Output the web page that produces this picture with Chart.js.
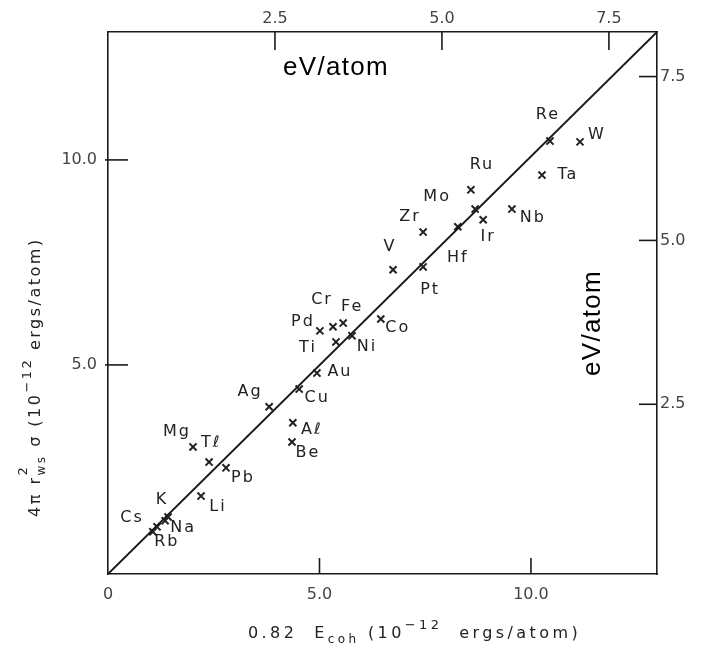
<!DOCTYPE html>
<html><head><meta charset="utf-8">
<script src="https://cdn.jsdelivr.net/npm/chart.js@4"></script>
<style>html,body{margin:0;padding:0;background:#fff;}#wrap{width:701px;height:648px;}</style>
</head><body><div id="wrap"><canvas id="c" width="701" height="648"></canvas></div>
<script>
// ---- data ----
const elements = ['Cs','Rb','Na','K','Li','Mg','Tℓ','Pb','Ag','Cu','Aℓ','Be','Au','Ti','Pd','Cr','Fe','Ni','Co','V','Pt','Zr','Hf','Mo','Ir','Ru','Nb','Ta','Re','W'];
const cohesiveEnergy = [1.16,1.06,1.35,1.42,2.20,2.01,2.39,2.79,3.81,4.52,4.37,4.35,4.94,5.39,5.01,5.32,5.56,5.77,6.45,6.74,7.45,7.45,8.27,8.68,8.87,8.58,9.55,10.26,10.45,11.16];
const surfaceEnergy  = [1.05,0.93,1.20,1.29,1.80,3.00,2.63,2.49,3.98,4.41,3.59,3.12,4.80,5.56,5.83,5.93,6.02,5.71,6.12,7.32,7.39,8.24,8.37,8.80,8.54,9.27,8.80,9.63,10.46,10.44];
const fitLineX = [0, 12.98];
const fitLineY = [-0.1, 13.12];
const bottomTicks = [0, 5, 10];
const leftTicks = [5, 10];
const topTicks = [2.5, 5, 7.5];
const rightTicks = [2.5, 5, 7.5];

// ---- styling (label offsets in px) ----
const labelOffsets = [[-25,-9],[14,10],[18,7],[-6,-17],[17,11],[-16,-15],[2,-19],[17,10],[-19,-15],[18,9],[19,7],[16,11],[23,-1],[-28,6],[-17,-9],[-11,-27],[9,-16],[15,11],[17,9],[-3,-23],[7,23],[-13,-15],[0,31],[-38,-12],[5,17],[11,-25],[21,9],[26,0],[-2,-26],[17,-7]];

const INK = '#1a1a1a';
const tickFont = {family:'DejaVu Sans', size:16};

function drawRich(ctx, x, y, parts, family){
  let cx = x;
  for (const p of parts){
    if (p.stack){
      let w = 0;
      for (const s of p.stack){
        ctx.font = s.size + 'px ' + family;
        ctx.fillText(s.t, cx, y + s.dy);
        w = Math.max(w, ctx.measureText(s.t).width);
      }
      cx += w;
    } else {
      ctx.font = p.size + 'px ' + family;
      ctx.fillText(p.t, cx, y + (p.dy||0));
      cx += ctx.measureText(p.t).width;
    }
  }
}

const decor = {
  id:'decor',
  afterDraw(chart){
    const {ctx, chartArea:a, scales} = chart;
    ctx.save();
    // inward tick marks
    ctx.strokeStyle = INK; ctx.lineWidth = 1.6;
    const ln = (x1,y1,x2,y2)=>{ctx.beginPath();ctx.moveTo(x1,y1);ctx.lineTo(x2,y2);ctx.stroke();};
    bottomTicks.forEach(v=>{ if(v===0) return; const p=scales.x.getPixelForValue(v); ln(p,a.bottom,p,a.bottom-16); });
    leftTicks.forEach(v=>{ const p=scales.y.getPixelForValue(v); ln(a.left-3,p,a.left+20,p); });
    topTicks.forEach(v=>{ const p=scales.x2.getPixelForValue(v); ln(p,a.top,p,a.top+18); });
    rightTicks.forEach(v=>{ const p=scales.y2.getPixelForValue(v); ln(a.right-18,p,a.right,p); });

    // element labels
    const meta = chart.getDatasetMeta(1);
    ctx.fillStyle = '#222';
    ctx.font = '16px DejaVu Sans';
    ctx.letterSpacing = '2px';
    ctx.textAlign = 'center'; ctx.textBaseline = 'middle';
    meta.data.forEach((pt,i)=>{
      const o = labelOffsets[i];
      ctx.fillText(elements[i], pt.x + o[0], pt.y + o[1]);
    });

    // axis titles
    ctx.textAlign = 'left'; ctx.textBaseline = 'alphabetic';
    ctx.letterSpacing = '3.4px';
    ctx.fillStyle = '#222';
    drawRich(ctx, 248, 638, [
      {t:'0.82  E', size:16},
      {t:'coh', size:12, dy:5},
      {t:' (10', size:16},
      {t:'−12', size:13, dy:-9},
      {t:'  ergs/atom)', size:16}
    ], 'DejaVu Sans');

    ctx.letterSpacing = '2.5px';
    ctx.save();
    ctx.translate(40, 517);
    ctx.rotate(-Math.PI/2);
    drawRich(ctx, 0, 0, [
      {t:'4π r', size:16},
      {stack:[{t:'ws', size:12, dy:5},{t:'2', size:13, dy:-13}]},
      {t:' σ (10', size:16},
      {t:'−12', size:13, dy:-9},
      {t:' ergs/atom)', size:16}
    ], 'DejaVu Sans');
    ctx.restore();

    // eV/atom captions
    ctx.letterSpacing = '1.3px';
    ctx.fillStyle = '#000';
    ctx.font = '26px "Liberation Sans", Arial, sans-serif';
    ctx.textAlign = 'center'; ctx.textBaseline = 'middle';
    ctx.fillText('eV/atom', 336, 68);
    ctx.save();
    ctx.translate(593, 323);
    ctx.rotate(-Math.PI/2);
    ctx.fillText('eV/atom', 0, 0);
    ctx.restore();
    ctx.restore();
  }
};

const border = {display:true, color:INK, width:1.6};
const noGrid = {display:false, drawTicks:false};

new Chart(document.getElementById('c'), {
  type:'scatter',
  data:{
    datasets:[
      {
        label:'fit',
        data: fitLineX.map((x,i)=>({x, y:fitLineY[i]})),
        showLine:true, pointRadius:0, borderColor:INK, borderWidth:1.8, clip:false
      },
      {
        label:'metals',
        data: cohesiveEnergy.map((x,i)=>({x, y:surfaceEnergy[i]})),
        pointStyle:'crossRot', pointRadius:5, borderColor:'#222', borderWidth:2
      }
    ]
  },
  options:{
    responsive:false, animation:false, devicePixelRatio:1,
    layout:{padding:0},
    plugins:{legend:{display:false}, tooltip:{enabled:false}},
    scales:{
      x:{type:'linear', axis:'x', position:'bottom', min:0, max:12.98,
        afterFit(s){s.height=74;},
        afterBuildTicks(s){s.ticks=bottomTicks.map(v=>({value:v}));},
        ticks:{callback:v=>v===0?'0':v.toFixed(1), font:tickFont, color:'#444', padding:11, autoSkip:false, maxRotation:0},
        grid:noGrid, border},
      y:{type:'linear', axis:'y', position:'left', min:-0.1, max:13.12,
        afterFit(s){s.width=108;},
        afterBuildTicks(s){s.ticks=leftTicks.map(v=>({value:v}));},
        ticks:{callback:v=>v.toFixed(1), font:tickFont, color:'#444', padding:11, autoSkip:false},
        grid:noGrid, border},
      x2:{type:'linear', axis:'x', position:'top', min:0, max:8.22,
        afterFit(s){s.height=32;},
        afterBuildTicks(s){s.ticks=topTicks.map(v=>({value:v}));},
        ticks:{callback:v=>v.toFixed(1), font:tickFont, color:'#444', padding:4, autoSkip:false, maxRotation:0},
        grid:noGrid, border},
      y2:{type:'linear', axis:'y', position:'right', min:-0.09, max:8.18,
        afterFit(s){s.width=44;},
        afterBuildTicks(s){s.ticks=rightTicks.map(v=>({value:v}));},
        ticks:{callback:v=>v.toFixed(1), font:tickFont, color:'#444', padding:3, autoSkip:false},
        grid:noGrid, border}
    }
  },
  plugins:[decor]
});
</script></body></html>
